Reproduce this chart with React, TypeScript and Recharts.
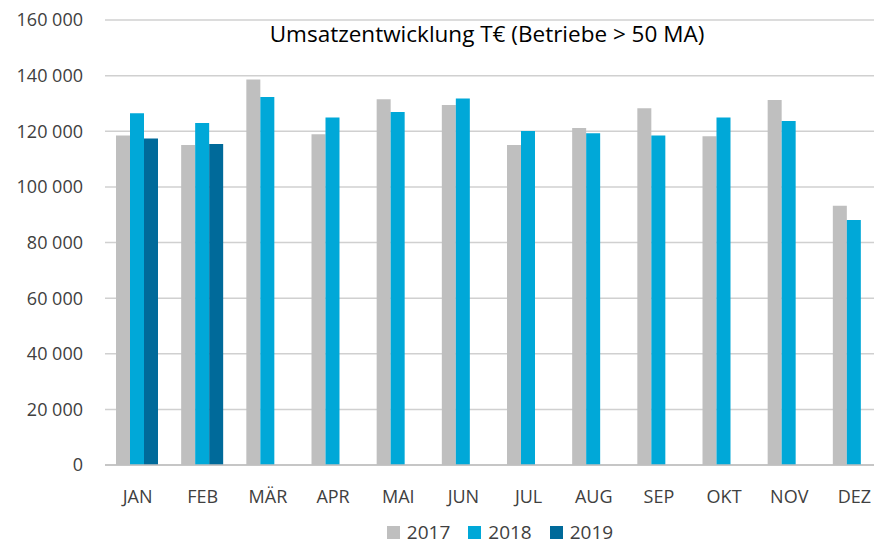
import { BarChart, Bar, XAxis, YAxis, CartesianGrid, Legend } from 'recharts';

const months = ['JAN', 'FEB', 'MÄR', 'APR', 'MAI', 'JUN', 'JUL', 'AUG', 'SEP', 'OKT', 'NOV', 'DEZ'];
const sales2017 = [118500, 115100, 138600, 118900, 131500, 129400, 115100, 121200, 128300, 118200, 131200, 93200];
const sales2018 = [126500, 123000, 132300, 124900, 126900, 131800, 120100, 119300, 118500, 124900, 123700, 88100];
const sales2019 = [117400, 115400, null, null, null, null, null, null, null, null, null, null];
const yTicks = [0, 20000, 40000, 60000, 80000, 100000, 120000, 140000, 160000];

const seriesColors: Record<string, string> = { '2017': '#bfbfbf', '2018': '#00a8d8', '2019': '#006a9a' };

const data = months.map((m, i) => ({
  month: m,
  '2017': sales2017[i],
  '2018': sales2018[i],
  '2019': sales2019[i],
}));

const FONT = '"Open Sans", "Segoe UI", sans-serif';
const fmt = (v: number) => v.toLocaleString('de-DE').replace(/\./g, ' ');

const LegendContent = ({ payload }: any) => (
  <div style={{ display: 'flex', justifyContent: 'center', paddingTop: 8, paddingLeft: 8, lineHeight: '22px' }}>
    {(payload || []).map((p: any) => (
      <div key={p.value} style={{ display: 'flex', alignItems: 'center', margin: '0 9px' }}>
        <span style={{ display: 'inline-block', width: 13, height: 13, background: seriesColors[p.value], marginRight: 7 }} />
        <span style={{ fontSize: 19, color: '#404040', fontFamily: FONT }}>{p.value}</span>
      </div>
    ))}
  </div>
);

export default function App() {
  return (
    <div style={{ position: 'absolute', left: 0, top: 0, width: 874, height: 546, overflow: 'hidden', background: '#fff', fontFamily: FONT }}>
      <BarChart
        width={890}
        height={546}
        data={data}
        margin={{ top: 20, right: 3, bottom: 0, left: 0 }}
        barGap={0}
        barCategoryGap={11}
      >
        <CartesianGrid vertical={false} stroke="#d0d0d0" strokeWidth={1.5} />
        <XAxis
          dataKey="month"
          tickLine={false}
          tickSize={0}
          tickMargin={25}
          height={48}
          stroke="#bfbfbf"
          strokeWidth={1.5}
          tick={{ fill: '#404040', fontSize: 18, fontFamily: FONT }}
        />
        <YAxis
          domain={[0, 160000]}
          ticks={yTicks}
          tickFormatter={fmt}
          axisLine={false}
          tickLine={false}
          tickSize={0}
          tickMargin={22}
          width={105}
          tick={{ fill: '#404040', fontSize: 18, fontFamily: FONT }}
        />
        <Legend
          verticalAlign="bottom"
          content={<LegendContent />}
          wrapperStyle={{ height: 33, left: 105, width: 782 }}
        />
        <Bar dataKey="2017" fill={seriesColors['2017']} isAnimationActive={false} />
        <Bar dataKey="2018" fill={seriesColors['2018']} isAnimationActive={false} />
        <Bar dataKey="2019" fill={seriesColors['2019']} isAnimationActive={false} />
      </BarChart>
      <div style={{ position: 'absolute', left: 0, width: 974, top: 18, textAlign: 'center', fontSize: 22.5, color: '#000', fontFamily: FONT }}>
        Umsatzentwicklung T€ (Betriebe &gt; 50 MA)
      </div>
    </div>
  );
}
